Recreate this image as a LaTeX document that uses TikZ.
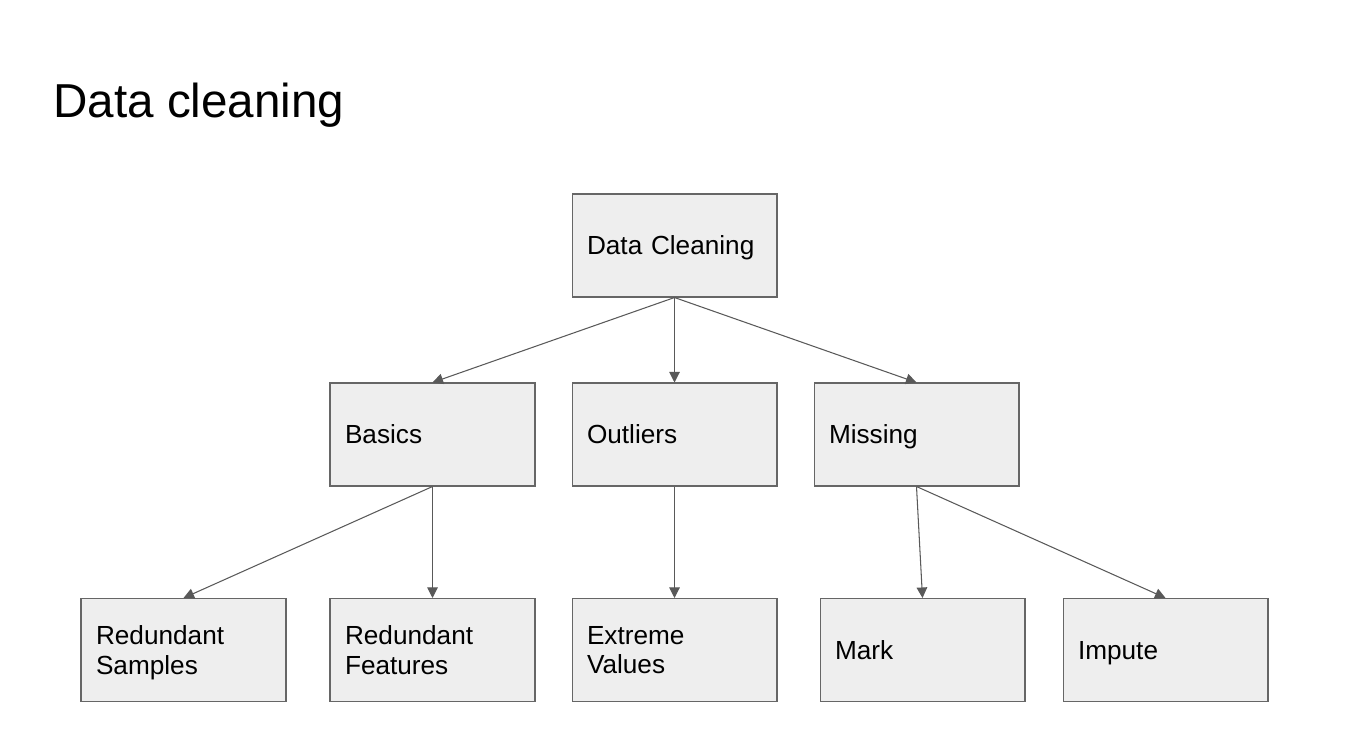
\documentclass[tikz,border=0pt]{standalone}
\usepackage{fontspec}
\setmainfont{Liberation Sans}
\usetikzlibrary{arrows.meta}
\definecolor{boxfill}{HTML}{EEEEEE}
\definecolor{boxline}{HTML}{666666}
\definecolor{linkline}{HTML}{595959}
\begin{document}
\begin{tikzpicture}[x=0.02cm,y=-0.02cm,
    box/.style={draw=boxline,fill=boxfill,line width=0.6pt,minimum width=4.1cm,
      minimum height=2.06cm,text width=3.5cm,inner xsep=0.28cm,align=left,
      font=\fontsize{14.9pt}{17pt}\selectfont,
      execute at end node={\endgraf\kern-\prevdepth}},
    link/.style={draw=linkline,line width=0.6pt,-{Triangle[length=6pt,width=6pt]}}]
    \useasboundingbox (0,0) rectangle (1348,754);
    % title
    \node[anchor=base west,inner sep=0pt,font=\fontsize{27.1pt}{33pt}\selectfont] (title) at (53,117) {Data cleaning};
    % boxes
    \node[box] (clean) at (674.5,245.5) {Data Cleaning};
    \node[box] (basics) at (432.5,434.5) {Basics};
    \node[box] (outliers) at (674.5,434.5) {Outliers};
    \node[box] (missing) at (916.5,434.5) {Missing};
    \node[box] (samples) at (183.5,650) {Redundant\\Samples};
    \node[box] (features) at (432.5,650) {Redundant\\Features};
    \node[box] (extreme) at (674.5,650) {Extreme\\Values};
    \node[box] (mark) at (922.5,650) {Mark};
    \node[box] (impute) at (1165.5,650) {Impute};
    % links
    \foreach \a/\b in {clean/basics,clean/outliers,clean/missing,basics/samples,
      basics/features,outliers/extreme,missing/mark,missing/impute}
      \draw[link] (\a.south) -- (\b.north);
\end{tikzpicture}
\end{document}
